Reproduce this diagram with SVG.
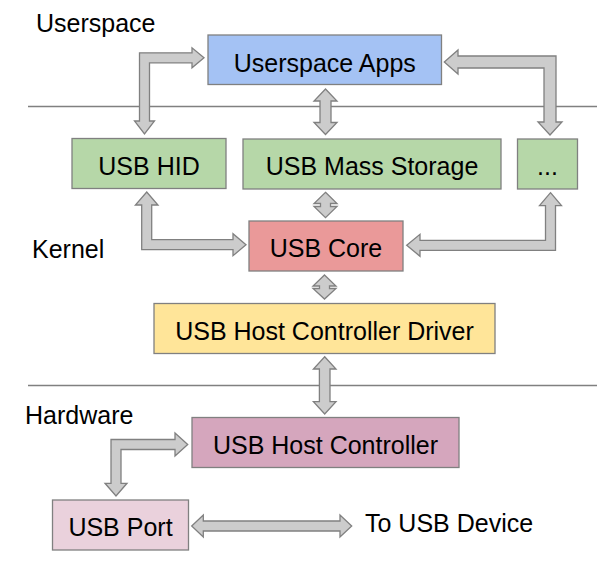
<svg xmlns="http://www.w3.org/2000/svg" width="597" height="571" viewBox="0 0 597 571">
<style>
text{font-family:"Liberation Sans",Arial,sans-serif;font-size:25px;fill:#000}
.n text{text-anchor:middle}
.box{stroke:#808080;stroke-width:1.3}
.arr path{fill:#cccccc;stroke:#808080;stroke-width:1.3;stroke-linejoin:miter}
.div{stroke:#808080;stroke-width:1.5}
</style>
<rect width="597" height="571" fill="#fff"/>
<g id="dividers">
<line class="div" x1="28" y1="106.5" x2="597" y2="106.5"/>
<line class="div" x1="28" y1="385.5" x2="597" y2="385.5"/>
</g>
<g id="section-labels">
<text x="36" y="31.5">Userspace</text>
<text x="32" y="258">Kernel</text>
<text x="25" y="424">Hardware</text>
<text x="365" y="532">To USB Device</text>
</g>
<g id="connectors" class="arr">
<path d="M204,57.8 L192,47.8 L192,52.8 L139.5,52.8 L139.5,121 L134.5,121 L144.5,134 L154.5,121 L149.5,121 L149.5,62.8 L192,62.8 L192,67.8 Z"/>
<path d="M325.5,89 L337,101 L331,101 L331,122.5 L337,122.5 L325.5,134.5 L314,122.5 L320,122.5 L320,101 L314,101 Z"/>
<path d="M444.3,62 L458,50 L458,56 L556,56 L556,122 L562,122 L550,135 L538,122 L544,122 L544,68 L458,68 L458,74 Z"/>
<path d="M146.7,192 L158,205 L151.7,205 L151.7,239.7 L233,239.7 L233,233.7 L246,244.7 L233,255.7 L233,249.7 L141.7,249.7 L141.7,205 L135.4,205 Z"/>
<path d="M550.5,192.7 L561.5,205.7 L555.5,205.7 L555.5,250.3 L420,250.3 L420,256.3 L406.7,245.3 L420,234.3 L420,240.3 L545.5,240.3 L545.5,205.7 L539.5,205.7 Z"/>
<path d="M325.5,192.3 L337,203.5 L330.5,203.5 L330.5,206.5 L337,206.5 L325.5,217.7 L314,206.5 L320.5,206.5 L320.5,203.5 L314,203.5 Z"/>
<path d="M324.5,275 L336,286 L329.5,286 L329.5,288.5 L336,288.5 L324.5,299 L313,288.5 L319.5,288.5 L319.5,286 L313,286 Z"/>
<path d="M324.7,356.7 L336,369 L330,369 L330,401.7 L336,401.7 L324.7,414 L313.4,401.7 L319.4,401.7 L319.4,369 L313.4,369 Z"/>
<path d="M187.7,444.5 L175,433 L175,439.5 L111,439.5 L111,483.3 L105,483.3 L116,496 L127,483.3 L121,483.3 L121,449.5 L175,449.5 L175,456 Z"/>
<path d="M191.7,526 L203.3,515 L203.3,521 L340,521 L340,515 L351.7,526 L340,537 L340,531 L203.3,531 L203.3,537 Z"/>
</g>
<g id="userspace-apps" class="n">
<rect class="box" x="208" y="35" width="233.5" height="49.5" fill="#a4c2f4"/>
<text x="324.8" y="71.5">Userspace Apps</text>
</g>
<g id="usb-hid" class="n">
<rect class="box" x="72" y="138.5" width="154" height="50" fill="#b6d7a8"/>
<text x="149" y="174.5">USB HID</text>
</g>
<g id="usb-mass-storage" class="n">
<rect class="box" x="243" y="139" width="258" height="50" fill="#b6d7a8"/>
<text x="372" y="175">USB Mass Storage</text>
</g>
<g id="other-drivers" class="n">
<rect class="box" x="517.5" y="139" width="60" height="50" fill="#b6d7a8"/>
<text x="547.5" y="175">...</text>
</g>
<g id="usb-core" class="n">
<rect class="box" x="249" y="221" width="154" height="50" fill="#ea9999"/>
<text x="326" y="257">USB Core</text>
</g>
<g id="usb-hcd" class="n">
<rect class="box" x="154" y="303.5" width="341" height="50" fill="#ffe599"/>
<text x="324.5" y="340">USB Host Controller Driver</text>
</g>
<g id="usb-host-controller" class="n">
<rect class="box" x="192" y="417.5" width="267" height="50" fill="#d5a6bd"/>
<text x="325.5" y="453.5">USB Host Controller</text>
</g>
<g id="usb-port" class="n">
<rect class="box" x="52.5" y="500" width="136" height="50" fill="#ead1dc"/>
<text x="120.5" y="536">USB Port</text>
</g>
</svg>
